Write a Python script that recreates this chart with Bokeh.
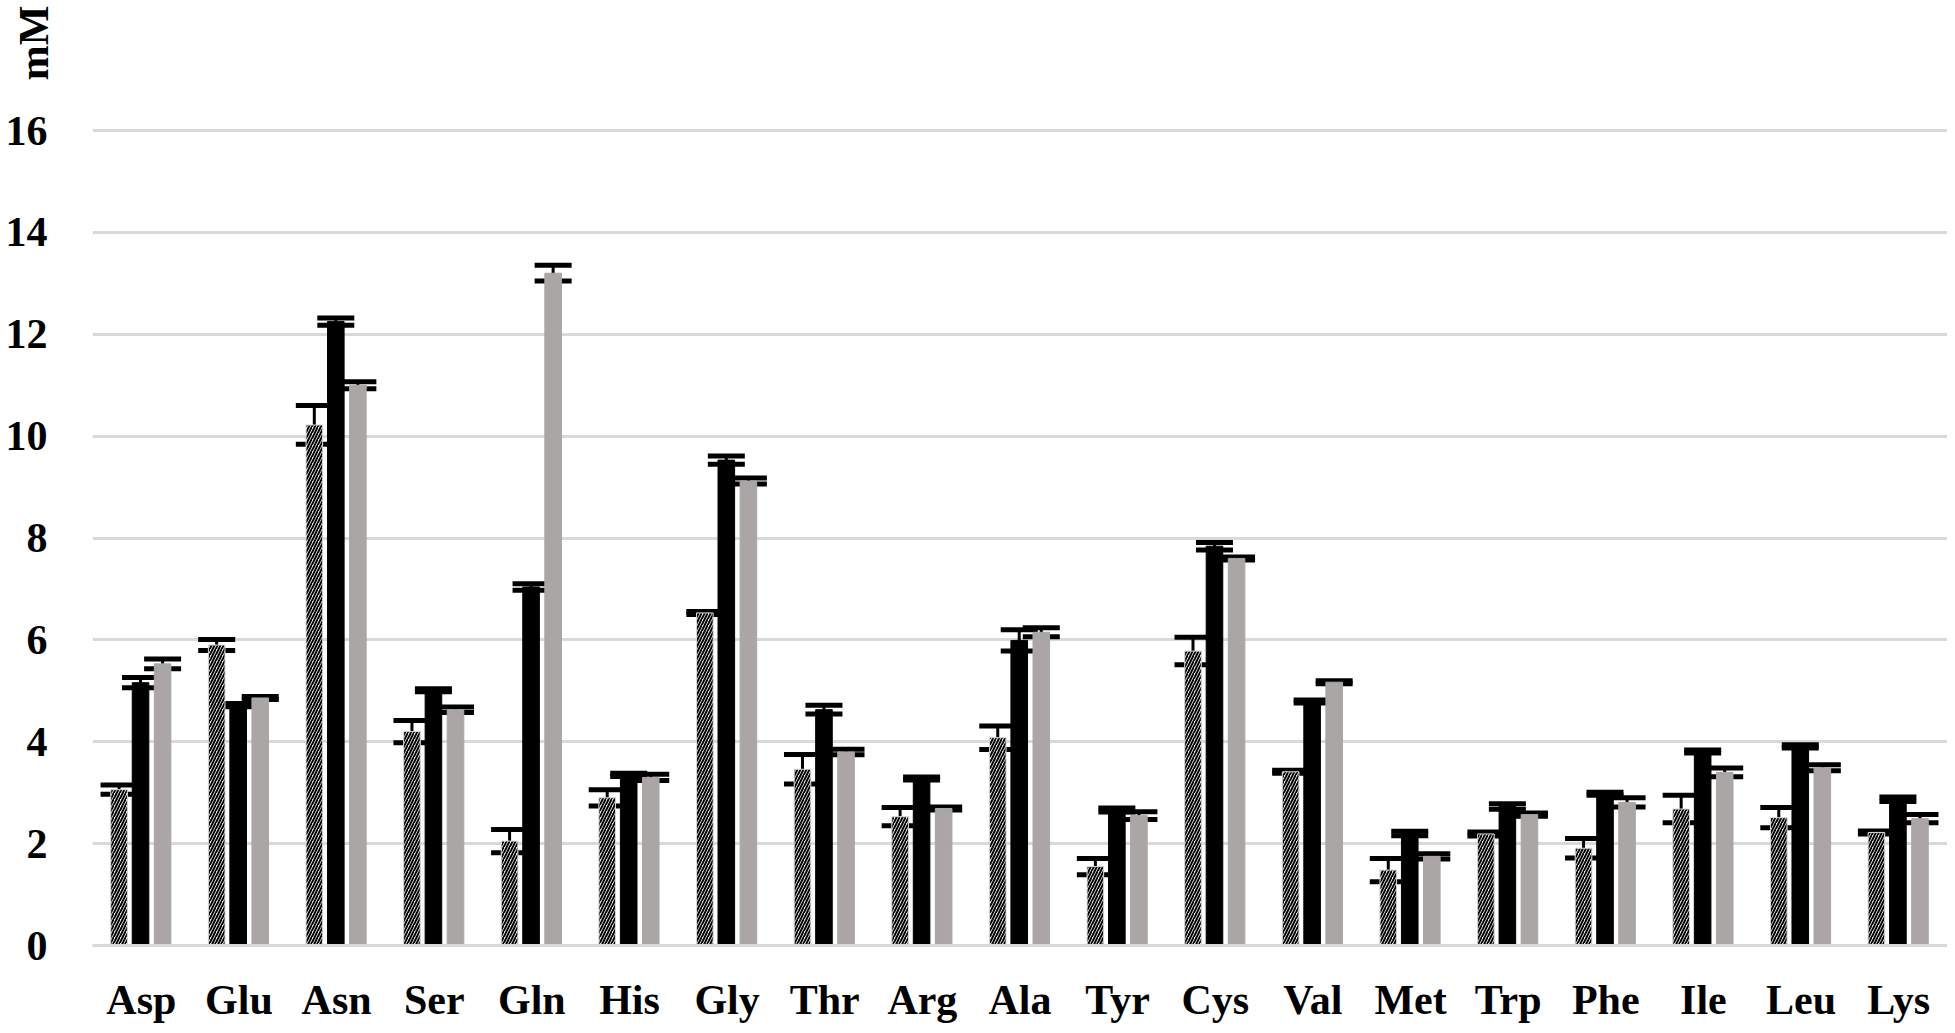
from bokeh.plotting import figure
from bokeh.models import (FactorRange, Range1d, ColumnDataSource, Whisker, TeeHead,
                          FixedTicker)
from bokeh.layouts import column
from bokeh.transform import dodge
from bokeh.embed import file_html
from bokeh.resources import INLINE

categories = ["Asp", "Glu", "Asn", "Ser", "Gln", "His", "Gly", "Thr", "Arg", "Ala",
              "Tyr", "Cys", "Val", "Met", "Trp", "Phe", "Ile", "Leu", "Lys"]

# series 1 (hatched)
hatched_mean = [3.06, 5.90, 10.22, 4.20, 2.05, 2.90, 6.53, 3.46, 2.53, 4.08,
                1.55, 5.78, 3.41, 1.48, 2.19, 1.91, 2.68, 2.51, 2.22]
hatched_err = [0.09, 0.11, 0.38, 0.22, 0.23, 0.16, 0.03, 0.29, 0.18, 0.23,
               0.16, 0.27, 0.03, 0.23, 0.04, 0.19, 0.27, 0.20, 0.03]
# series 2 (black)
black_mean = [5.16, 4.72, 12.25, 5.01, 7.04, 3.35, 9.53, 4.63, 3.28, 5.99,
              2.66, 7.84, 4.79, 2.20, 2.73, 2.98, 3.81, 3.91, 2.87]
black_err = [0.10, 0.03, 0.07, 0.03, 0.065, 0.03, 0.08, 0.085, 0.03, 0.21,
             0.04, 0.075, 0.03, 0.045, 0.055, 0.03, 0.03, 0.03, 0.045]
# series 3 (gray)
gray_mean = [5.53, 4.86, 11.00, 4.63, 13.20, 3.30, 9.12, 3.80, 2.69, 6.15,
             2.55, 7.60, 5.17, 1.75, 2.57, 2.81, 3.40, 3.49, 2.49]
gray_err = [0.095, 0.03, 0.07, 0.055, 0.155, 0.06, 0.06, 0.055, 0.03, 0.09,
            0.075, 0.03, 0.03, 0.05, 0.03, 0.09, 0.085, 0.06, 0.08]

y_ticks = [0, 2, 4, 6, 8, 10, 12, 14, 16]
y_label = "mM"

FONT = "Liberation Serif"
FS = "42px"

W = 1947
HEAD_H = 85

# header strip (same width / left border as the chart): its tick-less y axis
# carries the rotated unit label "mM"
head = figure(width=W, height=HEAD_H, x_range=Range1d(0, 1), y_range=Range1d(0, 1),
              x_axis_location=None, y_axis_location="left",
              output_backend="svg", toolbar_location=None,
              min_border_left=92, min_border_right=0, min_border_top=0,
              min_border_bottom=0)
head.grid.visible = False
head.outline_line_color = None
head.yaxis.ticker = FixedTicker(ticks=[])
head.yaxis.axis_line_color = None
head.yaxis.major_tick_line_color = None
head.yaxis.minor_tick_line_color = None
head.yaxis.major_tick_in = 0
head.yaxis.major_tick_out = 0
head.yaxis.major_label_text_font_size = "0px"
head.yaxis.major_label_standoff = 0
head.yaxis.axis_label = y_label
head.yaxis.axis_label_standoff = 36
head.yaxis.axis_label_text_font = FONT
head.yaxis.axis_label_text_font_style = "bold"
head.yaxis.axis_label_text_font_size = FS
head.yaxis.axis_label_text_color = "black"

p = figure(width=W, height=1025 - HEAD_H,
           x_range=FactorRange(*categories, range_padding=0),
           y_range=Range1d(0, 16.1), output_backend="svg", toolbar_location=None,
           min_border_left=92, min_border_right=0, min_border_top=125 - HEAD_H,
           min_border_bottom=74)
p.outline_line_color = None
p.background_fill_color = "white"

p.xgrid.visible = False
p.ygrid.grid_line_color = "#d9d9d9"
p.ygrid.grid_line_width = 3

p.yaxis.ticker = FixedTicker(ticks=y_ticks)
p.yaxis.axis_line_color = None
p.yaxis.major_tick_line_color = None
p.yaxis.minor_tick_line_color = None
p.yaxis.major_tick_in = 0
p.yaxis.major_tick_out = 0
p.yaxis.major_label_standoff = 45
p.yaxis.major_label_text_font = FONT
p.yaxis.major_label_text_font_style = "bold"
p.yaxis.major_label_text_font_size = FS
p.yaxis.major_label_text_color = "black"

p.xaxis.axis_line_color = "#d9d9d9"
p.xaxis.axis_line_width = 3
p.xaxis.major_tick_line_color = None
p.xaxis.major_tick_in = 0
p.xaxis.major_tick_out = 0
p.xaxis.major_label_standoff = 31
p.xaxis.major_label_text_font = FONT
p.xaxis.major_label_text_font_style = "bold"
p.xaxis.major_label_text_font_size = FS
p.xaxis.major_label_text_color = "black"

series = [
    (hatched_mean, hatched_err, -0.228),
    (black_mean, black_err, -0.008),
    (gray_mean, gray_err, 0.218),
]
sources = []
for mean, err, off in series:
    src = ColumnDataSource(data=dict(
        cat=categories, val=mean,
        lo=[m - e for m, e in zip(mean, err)],
        hi=[m + e for m, e in zip(mean, err)]))
    sources.append((src, off))

BW = 0.17
s0, o0 = sources[0]
p.vbar(x=dodge("cat", o0, range=p.x_range), top="val", bottom=0, width=BW, source=s0,
       fill_color="#e8e8e8", line_color="#d6d6d6", line_width=1,
       hatch_pattern="/", hatch_color="black", hatch_weight=1.9, hatch_scale=6)
s1, o1 = sources[1]
p.vbar(x=dodge("cat", o1, range=p.x_range), top="val", bottom=0, width=BW, source=s1,
       fill_color="black", line_color="black")
s2, o2 = sources[2]
p.vbar(x=dodge("cat", o2, range=p.x_range), top="val", bottom=0, width=BW, source=s2,
       fill_color="#aaa6a6", line_color="#aaa6a6")

for src, off in sources:
    w = Whisker(base=dodge("cat", off, range=p.x_range), upper="hi", lower="lo",
                source=src, line_color="black", line_width=3,
                upper_head=TeeHead(size=37, line_color="black", line_width=5),
                lower_head=TeeHead(size=37, line_color="black", line_width=5))
    p.add_layout(w)

layout = column(head, p, spacing=0)
open("out.html", "w").write(file_html(layout, INLINE))
